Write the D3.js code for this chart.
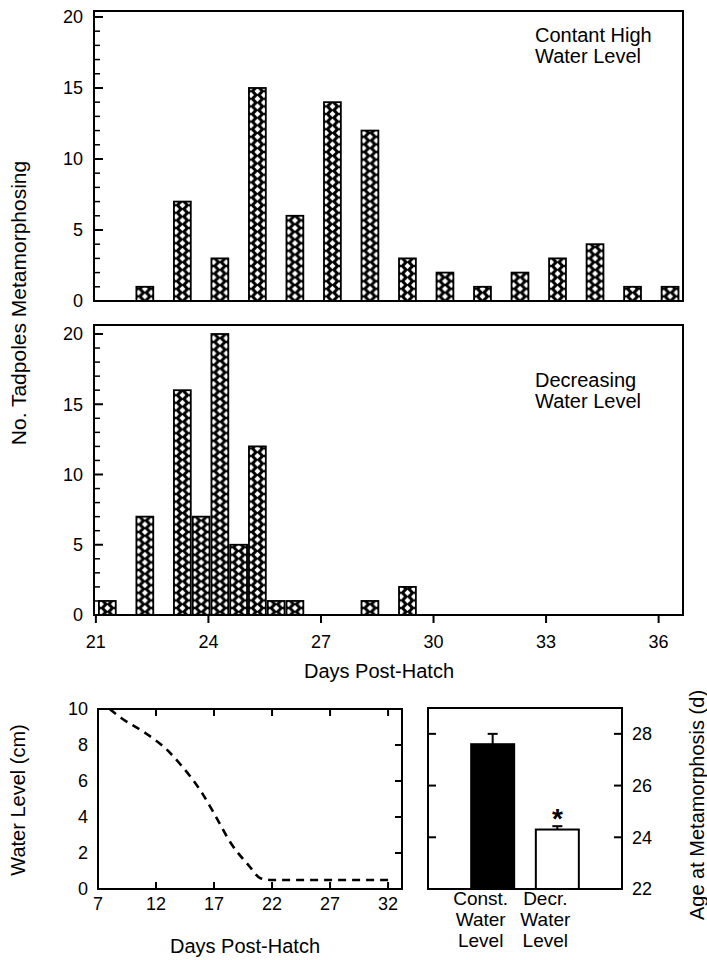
<!DOCTYPE html>
<html><head><meta charset="utf-8">
<script src="https://cdn.jsdelivr.net/npm/d3@7"></script>
<style>
html,body{margin:0;padding:0;background:#fff;}
svg text{font-family:"Liberation Sans",Arial,Helvetica,sans-serif;fill:#000;}
</style></head>
<body>
<svg id="chart" width="707" height="960"></svg>
<script>
// ---- data ----
const topDays = [22,23,24,25,26,27,28,29,30,31,32,33,34,35,36];
const topCounts = [1,7,3,15,6,14,12,3,2,1,2,3,4,1,1];
const midDays = [21,22,23,23.5,24,24.5,25,25.5,26,28,29];
const midCounts = [1,7,16,7,20,5,12,1,1,1,2];
const histXTicks = [21,24,27,30,33,36];
const histYTicks = [0,5,10,15,20];
const histMinorTicks = [1,2,3,4,6,7,8,9,11,12,13,14,16,17,18,19];
const topLabel = ["Contant High","Water Level"];
const midLabel = ["Decreasing","Water Level"];

const waterDays = [8,9,11,13,14,16,17,18.5,20,21,22,32];
const waterLevel = [10,9.5,8.7,7.7,7,5.3,4.2,2.5,1.3,0.6,0.5,0.5];
const waterXTicks = [7,12,17,22,27,32];
const waterYTicks = [0,2,4,6,8,10];

const ageGroups = ["Const.","Decr."];
const ageGroupLines = [["Const.","Water","Level"],["Decr.","Water","Level"]];
const ageMeans = [27.6,24.3];
const ageSE = [0.4,0.13];
const ageFills = ["#000","#fff"];
const ageYTicks = [22,24,26,28];

// ---- drawing ----
const svg = d3.select("#chart");
const defs = svg.append("defs");
const pat = defs.append("pattern").attr("id","hatch").attr("patternUnits","userSpaceOnUse")
  .attr("x",2).attr("y",0).attr("width",13).attr("height",7.6);
pat.append("rect").attr("width",13).attr("height",7.6).attr("fill","#000");
const dia = (cx,cy)=>`M${cx-3},${cy}L${cx},${cy-3}L${cx+3},${cy}L${cx},${cy+3}Z`;
pat.append("path").attr("fill","#fff")
  .attr("d",[dia(6.5,0),dia(0,3.8),dia(13,3.8),dia(6.5,7.6)].join(""));

const fs = 18;
const x = d3.scaleLinear().domain([20.95,36.65]).range([94,683]);
const barW = x(21.45)-x(21);

function histPanel(top,bottom,days,counts,ymax,label,labelY,showX){
  const y = d3.scaleLinear().domain([0,ymax]).range([bottom,top]);
  const g = svg.append("g");
  const clipId = "clip"+top;
  defs.append("clipPath").attr("id",clipId).append("rect")
    .attr("x",94).attr("y",top).attr("width",683-94).attr("height",bottom-top);
  const bars = g.append("g").attr("clip-path",`url(#${clipId})`);
  days.forEach((d,i)=>{
    const bx = x(d+0.08);
    bars.append("g").attr("transform",`translate(${bx},0)`)
      .append("rect").attr("x",0).attr("y",y(counts[i])).attr("width",barW)
      .attr("height",y(0)-y(counts[i])).attr("fill","url(#hatch)")
      .attr("stroke","#000").attr("stroke-width",1.8);
  });
  // frame
  g.append("rect").attr("x",94).attr("y",top).attr("width",683-94).attr("height",bottom-top)
    .attr("fill","none").attr("stroke","#000").attr("stroke-width",2);
  // y ticks (inside)
  g.selectAll(".maj").data(histYTicks).join("line")
    .attr("x1",94).attr("x2",103).attr("y1",d=>y(d)).attr("y2",d=>y(d))
    .attr("stroke","#000").attr("stroke-width",2);
  g.selectAll(".min").data(histMinorTicks).join("line").attr("class","min")
    .attr("x1",94).attr("x2",100).attr("y1",d=>y(d)).attr("y2",d=>y(d))
    .attr("stroke","#000").attr("stroke-width",1.5);
  g.selectAll(".yl").data(histYTicks).join("text").attr("class","yl")
    .attr("x",83).attr("y",d=>y(d)).attr("dy","0.36em").attr("text-anchor","end")
    .attr("font-size",fs).text(d=>d);
  label.forEach((t,i)=>g.append("text").attr("x",535).attr("y",labelY+i*20.5)
    .attr("font-size",20).text(t));
  if(showX){
    g.selectAll(".xt").data(histXTicks).join("line").attr("class","xt")
      .attr("x1",d=>x(d)).attr("x2",d=>x(d)).attr("y1",bottom).attr("y2",bottom+8)
      .attr("stroke","#000").attr("stroke-width",2);
    g.selectAll(".xl").data(histXTicks).join("text").attr("class","xl")
      .attr("x",d=>x(d)).attr("y",bottom+33).attr("text-anchor","middle")
      .attr("font-size",fs).text(d=>d);
  }
}
histPanel(11,301,topDays,topCounts,20.42,topLabel,42,false);
histPanel(325,615,midDays,midCounts,20.64,midLabel,387,true);

svg.append("text").attr("x",379).attr("y",678).attr("text-anchor","middle")
  .attr("font-size",20).text("Days Post-Hatch");
svg.append("text").attr("transform","translate(26,303) rotate(-90)")
  .attr("text-anchor","middle").attr("font-size",21).text("No. Tadpoles Metamorphosing");

// ---- water level panel ----
{
  const L=98,R=402,T=709,B=889;
  const wx = d3.scaleLinear().domain([7,33.2]).range([L,R]);
  const wy = d3.scaleLinear().domain([0,10]).range([B,T]);
  const g = svg.append("g");
  const line = d3.line().x((d,i)=>wx(waterDays[i])).y(d=>wy(d)).curve(d3.curveMonotoneX);
  g.append("path").attr("d",line(waterLevel)).attr("fill","none").attr("stroke","#000")
    .attr("stroke-width",2.6).attr("stroke-dasharray","8,6");
  g.append("rect").attr("x",L).attr("y",T).attr("width",R-L).attr("height",B-T)
    .attr("fill","none").attr("stroke","#000").attr("stroke-width",2);
  const xt = waterXTicks.slice(1);
  g.selectAll(".tt").data(xt).join("line").attr("class","tt")
    .attr("x1",d=>wx(d)).attr("x2",d=>wx(d)).attr("y1",T).attr("y2",T+7)
    .attr("stroke","#000").attr("stroke-width",2);
  g.selectAll(".bt").data(xt).join("line").attr("class","bt")
    .attr("x1",d=>wx(d)).attr("x2",d=>wx(d)).attr("y1",B).attr("y2",B-7)
    .attr("stroke","#000").attr("stroke-width",2);
  g.selectAll(".rt").data(waterYTicks.slice(1,-1)).join("line").attr("class","rt")
    .attr("x1",R).attr("x2",R-7).attr("y1",d=>wy(d)).attr("y2",d=>wy(d))
    .attr("stroke","#000").attr("stroke-width",2);
  g.selectAll(".xl").data(waterXTicks).join("text").attr("class","xl")
    .attr("x",d=>wx(d)).attr("y",B+21).attr("text-anchor","middle")
    .attr("font-size",fs).text(d=>d);
  g.selectAll(".yl").data(waterYTicks).join("text").attr("class","yl")
    .attr("x",88).attr("y",d=>wy(d)).attr("dy","0.36em").attr("text-anchor","end")
    .attr("font-size",fs).text(d=>d);
  g.append("text").attr("x",245).attr("y",953).attr("text-anchor","middle")
    .attr("font-size",20).text("Days Post-Hatch");
  g.append("text").attr("transform","translate(25,800) rotate(-90)")
    .attr("text-anchor","middle").attr("font-size",20).text("Water Level (cm)");
}

// ---- age at metamorphosis panel ----
{
  const L=428,R=622,T=708,B=889;
  const ax = d3.scalePoint().domain(ageGroups).range([L,R]).padding(1);
  const ay = d3.scaleLinear().domain([22,29]).range([B,T]);
  const bw = 43;
  const g = svg.append("g");
  ageGroups.forEach((grp,i)=>{
    const cx = ax(grp);
    g.append("line").attr("x1",cx).attr("x2",cx).attr("y1",ay(ageMeans[i])).attr("y2",ay(ageMeans[i]+ageSE[i]))
      .attr("stroke","#000").attr("stroke-width",2);
    g.append("line").attr("x1",cx-5).attr("x2",cx+5).attr("y1",ay(ageMeans[i]+ageSE[i])).attr("y2",ay(ageMeans[i]+ageSE[i]))
      .attr("stroke","#000").attr("stroke-width",2);
    g.append("rect").attr("x",cx-bw/2).attr("y",ay(ageMeans[i])).attr("width",bw)
      .attr("height",ay(22)-ay(ageMeans[i])).attr("fill",ageFills[i])
      .attr("stroke","#000").attr("stroke-width",2);
    ageGroupLines[i].forEach((t,j)=>g.append("text").attr("x",cx-12).attr("y",905+j*21)
      .attr("text-anchor","middle").attr("font-size",19).text(t));
  });
  g.append("text").attr("x",ax("Decr.")).attr("y",828).attr("text-anchor","middle")
    .attr("font-size",28).attr("font-weight","bold").text("*");
  g.append("rect").attr("x",L).attr("y",T).attr("width",R-L).attr("height",B-T)
    .attr("fill","none").attr("stroke","#000").attr("stroke-width",2);
  const yt = ageYTicks.slice(1);
  g.selectAll(".lt").data(yt).join("line").attr("class","lt")
    .attr("x1",L).attr("x2",L+8).attr("y1",d=>ay(d)).attr("y2",d=>ay(d))
    .attr("stroke","#000").attr("stroke-width",2);
  g.selectAll(".rt").data(yt).join("line").attr("class","rt")
    .attr("x1",R).attr("x2",R-8).attr("y1",d=>ay(d)).attr("y2",d=>ay(d))
    .attr("stroke","#000").attr("stroke-width",2);
  g.selectAll(".yl").data(ageYTicks).join("text").attr("class","yl")
    .attr("x",632).attr("y",d=>ay(d)).attr("dy","0.36em")
    .attr("font-size",fs).text(d=>d);
  g.append("text").attr("transform","translate(704,805) rotate(-90)")
    .attr("text-anchor","middle").attr("font-size",20).text("Age at Metamorphosis (d)");
}
</script>
</body></html>
